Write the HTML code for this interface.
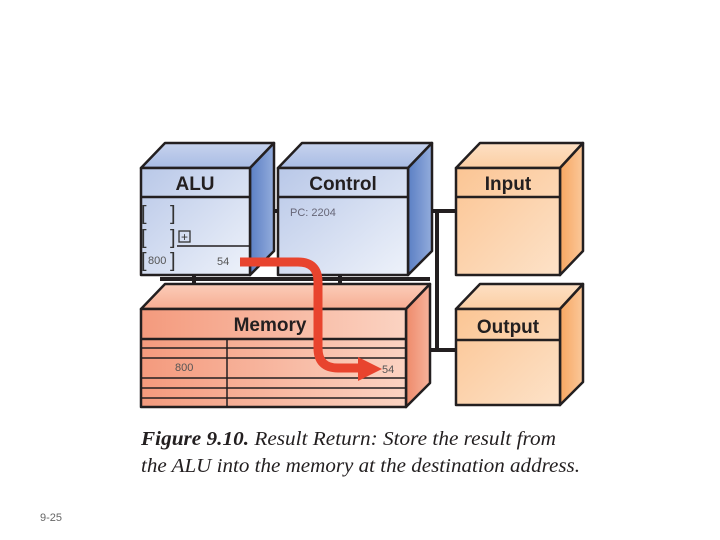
<!DOCTYPE html>
<html><head><meta charset="utf-8"><style>
html,body{margin:0;padding:0;background:#fff;width:720px;height:540px;overflow:hidden}
svg{display:block}
</style></head><body>
<svg width="720" height="540" viewBox="0 0 720 540" xmlns="http://www.w3.org/2000/svg">
<defs>
<linearGradient id="bf" x1="0" y1="0" x2="1" y2="1"><stop offset="0" stop-color="#b9c8e8"/><stop offset="1" stop-color="#eef2fa"/></linearGradient>
<linearGradient id="bs" x1="0" y1="0" x2="1" y2="0"><stop offset="0" stop-color="#5b7fc4"/><stop offset="1" stop-color="#93acdc"/></linearGradient>
<linearGradient id="bt" x1="0" y1="0" x2="0" y2="1"><stop offset="0" stop-color="#c7d3ee"/><stop offset="1" stop-color="#a9bce4"/></linearGradient>
<linearGradient id="of" x1="0" y1="0" x2="1" y2="1"><stop offset="0" stop-color="#fbc594"/><stop offset="1" stop-color="#fde2c8"/></linearGradient>
<linearGradient id="os" x1="0" y1="0" x2="1" y2="0"><stop offset="0" stop-color="#f7a661"/><stop offset="1" stop-color="#fbc89a"/></linearGradient>
<linearGradient id="ot" x1="0" y1="0" x2="0" y2="1"><stop offset="0" stop-color="#fde0c4"/><stop offset="1" stop-color="#fccea3"/></linearGradient>
<linearGradient id="mf" x1="0" y1="0" x2="1" y2="0"><stop offset="0" stop-color="#f49a7d"/><stop offset="1" stop-color="#fbd3c2"/></linearGradient>
<linearGradient id="ms" x1="0" y1="0" x2="1" y2="0"><stop offset="0" stop-color="#ee8a6a"/><stop offset="1" stop-color="#f7b39c"/></linearGradient>
<linearGradient id="mt" x1="0" y1="0" x2="0" y2="1"><stop offset="0" stop-color="#fbcdb9"/><stop offset="1" stop-color="#f7ad93"/></linearGradient>
</defs>
<g stroke="#231f20" stroke-width="2.5" stroke-linejoin="round">
<line x1="250" y1="211" x2="280" y2="211" stroke-width="4"/>
<line x1="408" y1="211" x2="456" y2="211" stroke-width="4"/>
<line x1="437" y1="211" x2="437" y2="350" stroke-width="4"/>
<line x1="415" y1="350" x2="456" y2="350" stroke-width="4"/>
<line x1="160" y1="279" x2="430" y2="279" stroke-width="4"/>
<line x1="194" y1="275" x2="194" y2="297" stroke-width="4"/>
<line x1="340" y1="275" x2="340" y2="297" stroke-width="4"/>
<polygon points="141,168 165,143 274,143 250,168" fill="url(#bt)"/>
<polygon points="250,168 274,143 274,251 250,275" fill="url(#bs)"/>
<rect x="141" y="168" width="109" height="107" fill="url(#bf)"/>
<line x1="141" y1="197" x2="250" y2="197"/>
<line x1="177" y1="246" x2="250" y2="246" stroke-width="1.5"/>
<polygon points="278,168 302,143 432,143 408,168" fill="url(#bt)"/>
<polygon points="408,168 432,143 432,251 408,275" fill="url(#bs)"/>
<rect x="278" y="168" width="130" height="107" fill="url(#bf)"/>
<line x1="278" y1="197" x2="408" y2="197"/>
<polygon points="456,168 480,143 583,143 560,168" fill="url(#ot)"/>
<polygon points="560,168 583,143 583,251 560,275" fill="url(#os)"/>
<rect x="456" y="168" width="104" height="107" fill="url(#of)"/>
<line x1="456" y1="197" x2="560" y2="197"/>
<polygon points="141,309 165,284 430,284 406,309" fill="url(#mt)"/>
<polygon points="406,309 430,284 430,383 406,407" fill="url(#ms)"/>
<rect x="141" y="309" width="265" height="98" fill="url(#mf)"/>
<line x1="141" y1="339" x2="406" y2="339"/>
<g stroke-width="1.5">
<line x1="141" y1="348" x2="406" y2="348"/>
<line x1="141" y1="358" x2="406" y2="358"/>
<line x1="141" y1="378" x2="406" y2="378"/>
<line x1="141" y1="388" x2="406" y2="388"/>
<line x1="141" y1="398" x2="406" y2="398"/>
<line x1="227" y1="339" x2="227" y2="407"/>
</g>
<polygon points="456,309 480,284 583,284 560,309" fill="url(#ot)"/>
<polygon points="560,309 583,284 583,382 560,405" fill="url(#os)"/>
<rect x="456" y="309" width="104" height="96" fill="url(#of)"/>
<line x1="456" y1="340" x2="560" y2="340"/>
</g>
<g font-family="Liberation Sans, sans-serif" fill="#555">
<text x="141" y="220" font-size="20" fill="#333">[</text><text x="170" y="220" font-size="20" fill="#333">]</text>
<text x="141" y="244" font-size="20" fill="#333">[</text><text x="170" y="244" font-size="20" fill="#333">]</text>
<rect x="179" y="231" width="11" height="11" fill="none" stroke="#333" stroke-width="1.3"/>
<text x="184.5" y="241" font-size="12" text-anchor="middle" fill="#333">+</text>
<text x="141" y="267" font-size="20" fill="#333">[</text><text x="170" y="267" font-size="20" fill="#333">]</text>
<text x="148" y="264" font-size="11">800</text>
<text x="217" y="265" font-size="11">54</text>
<text x="290" y="216" font-size="11" fill="#667">PC: 2204</text>
<text x="175" y="371" font-size="11">800</text>
<text x="382" y="373" font-size="11">54</text>
</g>
<g font-family="Liberation Sans, sans-serif" font-weight="bold" font-size="19" fill="#231f20" text-anchor="middle">
<text x="195" y="190">ALU</text>
<text x="343" y="190">Control</text>
<text x="508" y="190">Input</text>
<text x="270" y="331">Memory</text>
<text x="508" y="333">Output</text>
</g>
<path d="M240,262 L298,262 Q318,262 318,282 L318,348 Q318,368 338,368 L362,368" fill="none" stroke="#e8442e" stroke-width="9"/>
<polygon points="358,357 382,369 358,381" fill="#e8442e"/>
<g font-family="Liberation Serif, serif" font-style="italic" font-size="20" fill="#231f20">
<text x="141" y="445" textLength="415" lengthAdjust="spacingAndGlyphs"><tspan font-weight="bold">Figure 9.10.</tspan> Result Return: Store the result from</text>
<text x="141" y="472" textLength="439" lengthAdjust="spacingAndGlyphs">the ALU into the memory at the destination address.</text>
</g>
<text x="40" y="521" font-family="Liberation Sans, sans-serif" font-size="11" fill="#666">9-25</text>
</svg>
</body></html>
